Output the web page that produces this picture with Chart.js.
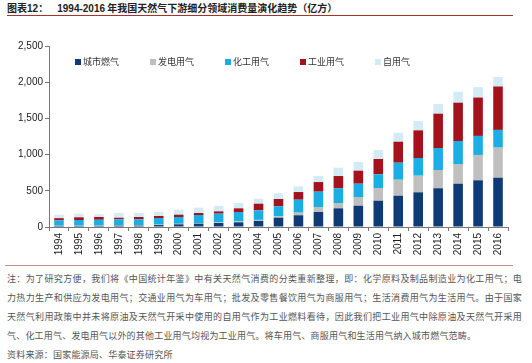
<!DOCTYPE html>
<html><head><meta charset="utf-8">
<script src="https://cdn.jsdelivr.net/npm/chart.js@4"></script>
<style>
body{margin:0;width:532px;height:363px;background:#fff;position:relative;overflow:hidden;font-family:"Noto Sans CJK SC",sans-serif}
#title{position:absolute;left:7px;top:1px;font-size:10px;font-weight:bold;color:#222;line-height:14px;white-space:nowrap}
#title .num{font-family:"Liberation Sans",Arial,sans-serif}
#rule1{position:absolute;left:7px;top:15px;width:506px;height:0;border-top:1.5px solid #a5342c}
#wrap{position:absolute;left:0;top:20px;width:520px;height:245px}
#rule2{position:absolute;left:5px;top:265px;width:508px;height:0;border-top:1.5px solid #c98a86}
.fn{position:absolute;left:7px;width:515px;font-size:9px;color:#555;line-height:12px;white-space:nowrap;letter-spacing:0.2px}
.j{text-align:justify;text-align-last:justify;white-space:normal;height:12px;overflow:hidden}
</style></head>
<body>
<div id="title">图表<span class="num">12</span>：&nbsp;&nbsp;&nbsp;&nbsp;<span class="num">1994-2016</span> 年我国天然气下游细分领域消费量演化趋势（亿方）</div>
<div id="rule1"></div>
<div id="wrap"><canvas id="c"></canvas></div>
<div id="rule2"></div>
<div class="fn j" style="top:273px">注：为了研究方便，我们将《中国统计年鉴》中有关天然气消费的分类重新整理，即：化学原料及制品制造业为化工用气；电</div>
<div class="fn j" style="top:292px">力热力生产和供应为发电用气；交通业用气为车用气；批发及零售餐饮用气为商服用气；生活消费用气为生活用气。由于国家</div>
<div class="fn j" style="top:311px">天然气利用政策中并未将原油及天然气开采中使用的自用气作为工业燃料看待，因此我们把工业用气中除原油及天然气开采用</div>
<div class="fn" style="top:330px">气、化工用气、发电用气以外的其他工业用气均视为工业用气。将车用气、商服用气和生活用气纳入城市燃气范畴。</div>
<div class="fn" style="top:349px">资料来源：国家能源局、华泰证券研究所</div>
<script>
const years = ['1994','1995','1996','1997','1998','1999','2000','2001','2002','2003','2004','2005','2006','2007','2008','2009','2010','2011','2012','2013','2014','2015','2016'];
const cityGas     = [14,14,14,18,18,27,37,46,55,65,83,129,162,207,258,294,363,432,479,535,598,645,681];
const powerGas    = [3,4,4,5,5,6,7,8,10,12,15,19,36,69,73,120,176,221,230,252,272,350,415];
const chemGas     = [75,79,82,83,83,91,94,112,119,130,132,138,179,212,204,184,189,235,244,304,318,263,245];
const industryGas = [30,37,38,22,32,28,32,27,32,51,92,101,106,133,169,180,211,290,382,474,529,530,600];
const selfGas     = [48,50,37,65,55,55,69,74,74,74,69,78,79,83,115,120,124,124,129,134,152,143,130];
const seriesNames = ['城市燃气','发电用气','化工用气','工业用气','自用气'];
const seriesColors = ['#0e3a75','#bfbfbf','#1aaee5','#a5121c','#d3ebf5'];
const yMax = 2500, yStep = 500;

const seriesData = [cityGas, powerGas, chemGas, industryGas, selfGas];

const legendPlugin = {
  id: 'inlineLegend',
  afterDraw(chart) {
    const ctx = chart.ctx, ca = chart.chartArea;
    ctx.save();
    ctx.font = '9px "Noto Sans CJK SC"';
    ctx.textBaseline = 'middle';
    chart.data.datasets.forEach((ds, i) => {
      const x = ca.left + 26 + i * 75;
      const y = ca.top + 16;
      ctx.fillStyle = ds.backgroundColor;
      ctx.fillRect(x, y - 3, 6, 6);
      ctx.fillStyle = '#333';
      ctx.fillText(ds.label, x + 8, y);
    });
    ctx.restore();
  }
};

new Chart(document.getElementById('c'), {
  type: 'bar',
  data: {
    labels: years,
    datasets: seriesNames.map((n, i) => ({
      label: n,
      data: seriesData[i],
      backgroundColor: seriesColors[i],
      borderWidth: 0,
      barPercentage: 0.48,
      categoryPercentage: 1
    }))
  },
  options: {
    responsive: true,
    maintainAspectRatio: false,
    animation: false,
    layout: { padding: { top: 26, right: 12, bottom: 8, left: 0 } },
    plugins: { legend: { display: false }, tooltip: { enabled: false } },
    scales: {
      x: {
        stacked: true,
        grid: { display: true, drawOnChartArea: false, offset: true, tickLength: 4, color: '#777' },
        border: { color: '#777' },
        ticks: { minRotation: 90, maxRotation: 90, autoSkip: false, padding: 2, color: '#222',
                 font: { family: '"Liberation Sans", Arial, sans-serif', size: 10 } },
        afterFit: s => { s.height = 30; }
      },
      y: {
        stacked: true,
        min: 0, max: yMax,
        grid: { display: true, drawOnChartArea: false, tickLength: 4, color: '#777' },
        border: { color: '#777' },
        ticks: { stepSize: yStep, padding: 2, color: '#222',
                 font: { family: '"Liberation Sans", Arial, sans-serif', size: 10 },
                 callback: v => v.toLocaleString('en-US') },
        afterFit: s => { s.width = 49; }
      }
    }
  },
  plugins: [legendPlugin]
});
</script>
</body></html>
